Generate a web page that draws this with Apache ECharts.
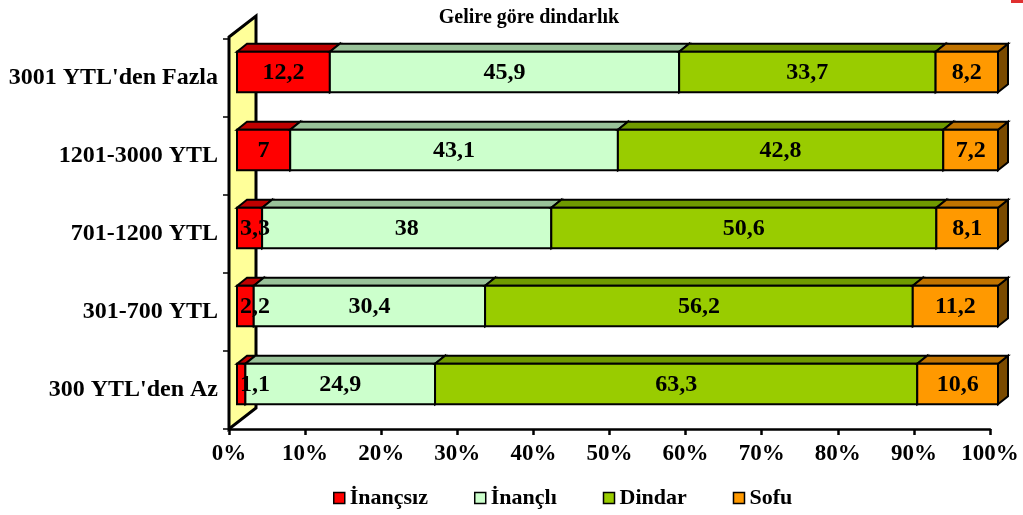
<!DOCTYPE html>
<html>
<head>
<meta charset="utf-8">
<script src="https://cdn.jsdelivr.net/npm/echarts@6/dist/echarts.min.js"></script>
<style>
  html, body { margin: 0; padding: 0; background: #fff; }
  #chart { width: 1023px; height: 515px; }
</style>
</head>
<body>
<div id="chart"></div>
<script>
// gelir grupları (alttan üste)
var categories = ["300 YTL'den Az", "301-700 YTL", "701-1200 YTL", "1201-3000 YTL", "3001 YTL'den Fazla"];
var inancsiz = [1.1, 2.2, 3.3, 7, 12.2];
var inancli = [24.9, 30.4, 38, 43.1, 45.9];
var dindar = [63.3, 56.2, 50.6, 42.8, 33.7];
var sofu = [10.6, 11.2, 8.1, 7.2, 8.2];
var xTicks = [0, 10, 20, 30, 40, 50, 60, 70, 80, 90, 100];

var groups = [
    { name: 'İnançsız', values: inancsiz, front: '#FF0000', top: '#C00000', side: '#800000' },
    { name: 'İnançlı', values: inancli, front: '#CCFFCC', top: '#99C299', side: '#7FA07F' },
    { name: 'Dindar', values: dindar, front: '#99CC00', top: '#6F9A00', side: '#4F6E00' },
    { name: 'Sofu', values: sofu, front: '#FF9900', top: '#C07300', side: '#7A4A00' }
];

var FONT = '"Liberation Serif", "Times New Roman", serif';
var DEPTH_X = 10, DEPTH_Y = 8;   // derinlik (3B görünüm)
var SHIFT_X = 8, SHIFT_Y = 6;    // ön yüzün duvara göre kayması

// satır toplamları -> %100 yığma
var totals = categories.map(function (c, i) {
    var t = 0;
    groups.forEach(function (g) { t += g.values[i]; });
    return t;
});

function fmt(v) {
    return String(v).replace('.', ',');
}

function renderBar(params, api) {
    var cat = api.value(0);
    var s = api.value(1), e = api.value(2), v = api.value(3);
    var p0 = api.coord([s, cat]);
    var p1 = api.coord([e, cat]);
    var h = api.size([0, 1])[1] * 0.52;
    var x0 = p0[0] + SHIFT_X, x1 = p1[0] + SHIFT_X;
    var yc = p0[1] - SHIFT_Y;
    var y0 = yc - h / 2, y1 = yc + h / 2;
    var c = groups[params.seriesIndex - 1];
    var w = x1 - x0;
    var tx = Math.max((x0 + x1) / 2, x0 + 18);
    return {
        type: 'group',
        children: [
            {
                type: 'polygon',
                shape: { points: [[x1, y0], [x1 + DEPTH_X, y0 - DEPTH_Y], [x1 + DEPTH_X, y1 - DEPTH_Y], [x1, y1]] },
                style: { fill: c.side, stroke: '#000', lineWidth: 2 }
            },
            {
                type: 'polygon',
                shape: { points: [[x0, y0], [x0 + DEPTH_X, y0 - DEPTH_Y], [x1 + DEPTH_X, y0 - DEPTH_Y], [x1, y0]] },
                style: { fill: c.top, stroke: '#000', lineWidth: 2 }
            },
            {
                type: 'rect',
                shape: { x: x0, y: y0, width: w, height: h },
                style: { fill: c.front, stroke: '#000', lineWidth: 2 }
            },
            {
                type: 'text',
                z2: 100,
                style: {
                    text: fmt(v), x: tx, y: yc + 1,
                    align: 'center', verticalAlign: 'middle',
                    font: 'bold 24px ' + FONT, fill: '#000'
                }
            }
        ]
    };
}

// sol duvar
function renderWall(params, api) {
    var cs = params.coordSys;
    var x = cs.x, y = cs.y - 2, b = cs.y + cs.height;
    return {
        type: 'polygon',
        shape: { points: [[x, y], [x + 27, y - 21], [x + 27, b - 21], [x, b]] },
        style: { fill: '#FFFF99', stroke: '#000', lineWidth: 3 }
    };
}

var series = [{
    type: 'custom',
    name: 'wall',
    silent: true,
    renderItem: renderWall,
    data: [[0, 0]],
    encode: { x: 0, y: 1 },
    z: 1
}];

var cum = categories.map(function () { return 0; });
groups.forEach(function (g) {
    var data = categories.map(function (c, i) {
        var s = cum[i] / totals[i] * 100;
        cum[i] += g.values[i];
        var e = cum[i] / totals[i] * 100;
        return [i, s, e, g.values[i]];
    });
    series.push({
        type: 'custom',
        name: g.name,
        renderItem: renderBar,
        itemStyle: { color: g.front },
        encode: { x: [1, 2], y: 0 },
        data: data,
        z: 2
    });
});

var myChart = echarts.init(document.getElementById('chart'));
var option = {
    backgroundColor: '#fff',
    animation: false,
    title: {
        text: 'Gelire göre dindarlık',
        left: 524,
        textAlign: 'center',
        top: 3,
        textStyle: { fontFamily: FONT, fontWeight: 'bold', fontSize: 20, color: '#000' }
    },
    legend: {
        data: groups.map(function (g) { return g.name; }),
        left: 328,
        bottom: 1,
        icon: 'rect',
        itemWidth: 11,
        itemHeight: 11,
        itemGap: 46,
        itemStyle: { borderColor: '#000', borderWidth: 1.5 },
        textStyle: { fontFamily: FONT, fontWeight: 'bold', fontSize: 22, color: '#000' }
    },
    grid: { left: 229, right: 33, top: 39, bottom: 86 },
    xAxis: {
        type: 'value',
        min: xTicks[0],
        max: xTicks[xTicks.length - 1],
        interval: xTicks[1] - xTicks[0],
        splitLine: { show: false },
        axisLine: { show: true, lineStyle: { color: '#000', width: 2.5 } },
        axisTick: { show: true, length: 6, lineStyle: { color: '#000', width: 2.5 } },
        axisLabel: {
            formatter: '{value}%',
            margin: 14,
            fontFamily: FONT, fontWeight: 'bold', fontSize: 23, color: '#000'
        }
    },
    yAxis: {
        type: 'category',
        data: categories,
        axisLine: { show: false },
        axisTick: { show: true, length: 6, lineStyle: { color: '#000', width: 1.5 } },
        axisLabel: {
            margin: 11,
            padding: [0, 0, 10, 0],
            fontFamily: FONT, fontWeight: 'bold', fontSize: 24, color: '#000'
        }
    },
    graphic: [{
        type: 'rect',
        right: 0, top: 0,
        shape: { width: 12, height: 3 },
        style: { fill: '#E03030' }
    }],
    series: series
};
myChart.setOption(option);
</script>
</body>
</html>
